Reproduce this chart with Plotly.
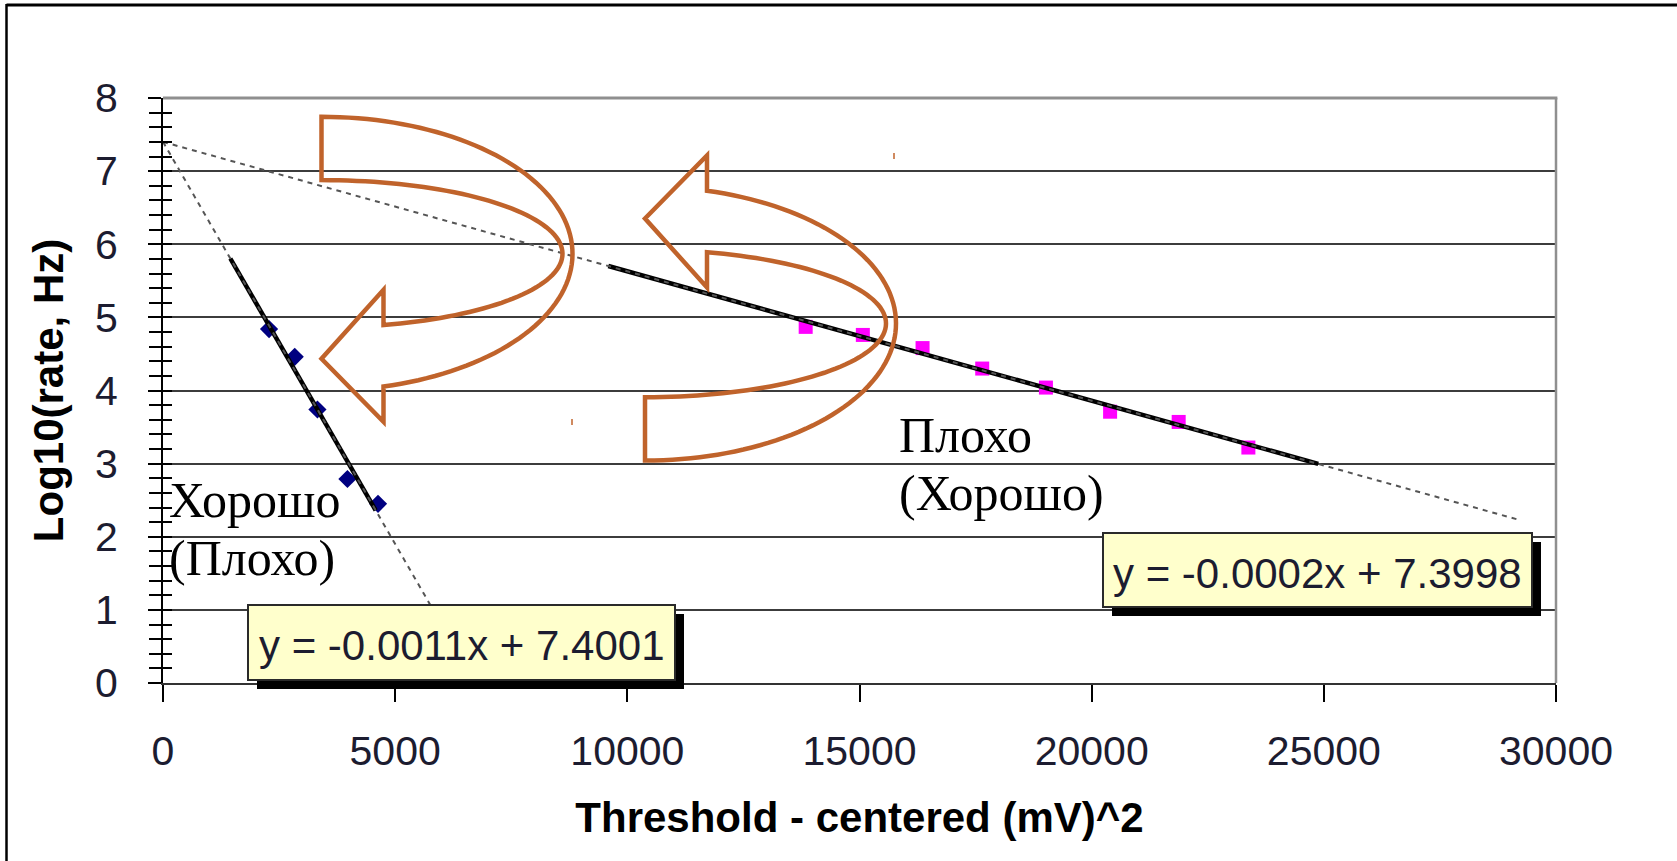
import numpy as np
import plotly.graph_objects as go

# ---- data -------------------------------------------------------------
good_x = [2284, 2837, 3326, 3972, 4631]
good_y = [4.84, 4.46, 3.74, 2.79, 2.45]

bad_x = [13841, 15072, 16358, 17643, 19015, 20397, 21874, 23375]
bad_y = [4.87, 4.76, 4.58, 4.30, 4.04, 3.71, 3.57, 3.22]

# linear trend coefficients (slope, intercept)
good_fit = (-0.0011, 7.4001)
bad_fit = (-0.000177, 7.3998)

# x extent of the solid trend segment and of the dashed forecast
good_solid = (1450, 4580)
good_dash = (0, 6300)
bad_solid = (9590, 24880)
bad_dash = (0, 29210)

x_ticks = [0, 5000, 10000, 15000, 20000, 25000, 30000]
y_ticks = [0, 1, 2, 3, 4, 5, 6, 7, 8]

x_title = "Threshold - centered (mV)^2"
y_title = "Log10(rate, Hz)"
good_note = ["Хорошо", "(Плохо)"]
bad_note = ["Плохо", "(Хорошо)"]

# ---- geometry ---------------------------------------------------------
W, H = 1677, 861
L, R, T, B = 163, 121, 98, 178
PW, PH = W - L - R, H - T - B


def fx(px):
    return (px - L) / PW


def fy(py):
    return (T + PH - py) / PH


SANS = "Liberation Sans, Arial, sans-serif"
SERIF = "Liberation Serif, Times New Roman, serif"
TXT = "#1c1c30"
ORANGE = "#C0632B"


def trend(fit, span):
    xs = np.array(span, dtype=float)
    return xs, fit[0] * xs + fit[1]


def eq_label(fit):
    return f"y = {fit[0]:.4f}x + {fit[1]:.4f}"


fig = go.Figure()

fig.add_trace(go.Scatter(x=good_x, y=good_y, mode="markers",
                         marker=dict(symbol="diamond", size=14, color="#000080"),
                         hoverinfo="skip"))
fig.add_trace(go.Scatter(x=bad_x, y=bad_y, mode="markers",
                         marker=dict(symbol="square", size=14, color="#FF00FF"),
                         hoverinfo="skip"))

for fit, span in [(good_fit, good_solid), (bad_fit, bad_solid)]:
    xs, ys = trend(fit, span)
    fig.add_trace(go.Scatter(x=xs, y=ys, mode="lines",
                             line=dict(color="black", width=4.5), hoverinfo="skip"))

for fit, span in [(good_fit, good_dash), (bad_fit, bad_dash)]:
    xs, ys = trend(fit, span)
    fig.add_trace(go.Scatter(x=xs, y=ys, mode="lines",
                             line=dict(color="#555555", width=2, dash="5px,5px"),
                             hoverinfo="skip"))

# carrier for the inner half of the crossing y ticks
fig.add_trace(go.Scatter(x=[None], y=[None], yaxis="y2", hoverinfo="skip"))

# ---- shapes -----------------------------------------------------------
shapes = []

# page frame (top and left)
shapes.append(dict(type="line", xref="paper", yref="paper",
                   x0=fx(6.5), x1=fx(W + 5), y0=fy(5), y1=fy(5),
                   line=dict(color="black", width=3)))
shapes.append(dict(type="line", xref="paper", yref="paper",
                   x0=fx(6.5), x1=fx(6.5), y0=fy(4), y1=fy(H + 5),
                   line=dict(color="black", width=2.5)))

# plot-area border (top / right)
shapes.append(dict(type="line", xref="paper", yref="paper", x0=0, x1=1.001, y0=1, y1=1,
                   line=dict(color="#8f8f8f", width=3)))
shapes.append(dict(type="line", xref="paper", yref="paper", x0=1, x1=1, y0=0, y1=1,
                   line=dict(color="#8f8f8f", width=2.5)))

# equation boxes with drop shadow
boxes = [((248, 605, 675, 680), good_fit), ((1103, 533, 1532, 607), bad_fit)]
for (x0, y0, x1, y1), fit in boxes:
    shapes.append(dict(type="rect", xref="paper", yref="paper",
                       x0=fx(x0 + 9), x1=fx(x1 + 9), y0=fy(y0 + 9), y1=fy(y1 + 9),
                       fillcolor="black", line=dict(width=0), layer="above"))
    shapes.append(dict(type="rect", xref="paper", yref="paper",
                       x0=fx(x0), x1=fx(x1), y0=fy(y0), y1=fy(y1),
                       fillcolor="#FFFFCC", line=dict(color="#2a2a2a", width=2),
                       layer="above"))


def curved_arrow(cx, cy, s):
    """Outline of a curled ribbon arrow pointing left; s=+1 curls down, -1 up."""
    rxo, ryo, rxi, ryi = 251, 137, 241, 73.7
    bx, hc, hh, tip = 62, 102, 66, 105
    te = np.arccos(bx / rxo)
    pts = [(cx + rxo * np.cos(a), cy + s * ryo * np.sin(a))
           for a in np.linspace(-np.pi / 2, te, 80)]
    pts += [(cx + bx, cy + s * (hc + hh)), (cx, cy + s * tip),
            (cx + bx, cy + s * (hc - hh))]
    ti = np.arccos(bx / rxi)
    pts += [(cx + rxi * np.cos(a), cy + s * ryi * np.sin(a))
            for a in np.linspace(ti, -np.pi / 2, 80)]
    return "M " + " L ".join(f"{fx(x):.5f},{fy(y):.5f}" for x, y in pts) + " Z"


for cx, cy, s in [(321.5, 253.8, 1), (645, 323.5, -1)]:
    shapes.append(dict(type="path", xref="paper", yref="paper",
                       path=curved_arrow(cx, cy, s),
                       line=dict(color=ORANGE, width=4.5), layer="above"))

# two stray handle marks
for mx, my in [(894, 156), (572, 422)]:
    shapes.append(dict(type="line", xref="paper", yref="paper",
                       x0=fx(mx), x1=fx(mx), y0=fy(my - 3), y1=fy(my + 3),
                       line=dict(color=ORANGE, width=1.5), layer="above"))

# ---- annotations ------------------------------------------------------
annotations = []
for (x0, y0, x1, y1), fit in boxes:
    annotations.append(dict(xref="paper", yref="paper",
                            x=fx((x0 + x1) / 2), y=fy((y0 + y1) / 2 + 3),
                            xanchor="center", yanchor="middle", showarrow=False,
                            text=eq_label(fit),
                            font=dict(family=SANS, size=42, color=TXT)))

note_fs = 50
for lines, left, base0, step in [(good_note, 167, 516, 58), (bad_note, 897, 451, 58)]:
    for i, line in enumerate(lines):
        base = base0 + i * step
        annotations.append(dict(xref="paper", yref="paper",
                                x=fx(left), y=fy(base - 0.32 * note_fs),
                                xanchor="left", yanchor="middle", showarrow=False,
                                text=line,
                                font=dict(family=SERIF, size=note_fs, color="black")))

# ---- layout -----------------------------------------------------------
fig.update_layout(
    width=W, height=H,
    margin=dict(l=L, r=R, t=T, b=B, autoexpand=False),
    paper_bgcolor="white", plot_bgcolor="white",
    showlegend=False,
    shapes=shapes, annotations=annotations,
    xaxis=dict(range=[0, 30000], tickvals=x_ticks, ticktext=[str(v) for v in x_ticks],
               ticks="outside", ticklen=17, tickwidth=2, tickcolor="black",
               showline=True, linecolor="#333333", linewidth=2,
               showgrid=False, zeroline=False, fixedrange=True,
               ticklabelstandoff=14,
               tickfont=dict(family=SANS, size=41, color=TXT),
               title=dict(text=x_title, standoff=29,
                          font=dict(family=SANS, size=42, color="black", weight="bold"))),
    yaxis=dict(range=[0, 8], tickvals=y_ticks,
               ticks="outside", ticklen=13, tickwidth=2, tickcolor="black",
               minor=dict(dtick=0.2, ticks="outside", ticklen=12, tickwidth=2,
                          tickcolor="black", showgrid=False),
               showline=True, linecolor="black", linewidth=2,
               showgrid=True, gridcolor="#3c3c3c", gridwidth=2,
               zeroline=False, fixedrange=True,
               ticklabelstandoff=22,
               tickfont=dict(family=SANS, size=41, color=TXT),
               title=dict(text=y_title, standoff=18,
                          font=dict(family=SANS, size=42, color="black", weight="bold"))),
    yaxis2=dict(range=[0, 8], overlaying="y", side="left", anchor="x",
                tickvals=y_ticks, ticks="inside", ticklen=9, tickwidth=2,
                tickcolor="black",
                minor=dict(dtick=0.2, ticks="inside", ticklen=9, tickwidth=2,
                           tickcolor="black", showgrid=False),
                showticklabels=False, showgrid=False, zeroline=False,
                showline=False, fixedrange=True),
)

fig.write_html("out.html", config={"displayModeBar": False})
